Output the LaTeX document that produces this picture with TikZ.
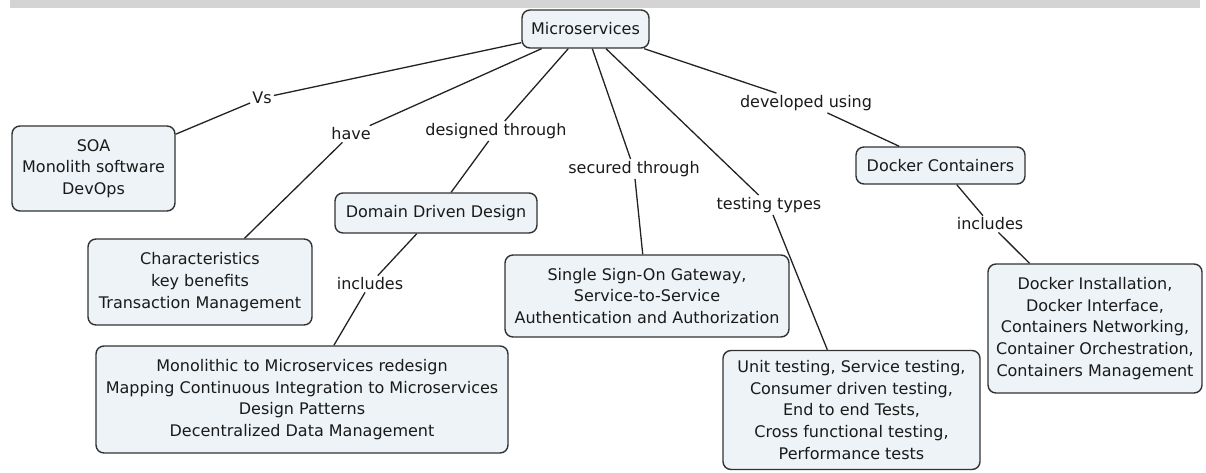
\documentclass[tikz,border=0pt]{standalone}
\usepackage{fontspec}
\setmainfont{DejaVu Sans}
\definecolor{boxfill}{HTML}{EDF3F6}
\definecolor{boxline}{HTML}{333333}
\definecolor{linkc}{HTML}{222222}
\definecolor{txt}{HTML}{1A1A1A}
\definecolor{barc}{HTML}{D4D4D4}
\newcommand{\cmfs}{\fontsize{16}{21.7}\selectfont}
\begin{document}
\begin{tikzpicture}[x=1pt,y=-1pt,
  concept/.style={draw=boxline, line width=1.4pt, fill=boxfill, rounded corners=8pt,
    align=center, font=\cmfs, text=txt, inner sep=0pt},
  lbl/.style={fill=white, font=\cmfs, inner sep=2pt, text=txt},
  link/.style={draw=linkc, line width=1.3pt}]
\useasboundingbox (0,0) rectangle (1206,473);
\fill[barc] (10,0) rectangle (1200,8);

\node[concept, minimum width=127pt, minimum height=38pt] (micro) at (585.5,29) {Microservices};
\node[concept, minimum width=163pt, minimum height=85pt] (soa) at (93.5,168.5) {SOA\\Monolith software\\DevOps};
\node[concept, minimum width=224pt, minimum height=86pt] (char) at (200,282) {Characteristics\\key benefits\\Transaction Management};
\node[concept, minimum width=202pt, minimum height=40pt] (ddd) at (436,213) {Domain Driven Design};
\node[concept, minimum width=412pt, minimum height=107pt] (mono) at (302,399.5) {Monolithic to Microservices redesign\\Mapping Continuous Integration to Microservices\\Design Patterns\\Decentralized Data Management};
\node[concept, minimum width=284pt, minimum height=82pt] (sso) at (647,296) {Single Sign-On Gateway,\\Service-to-Service\\Authentication and Authorization};
\node[concept, minimum width=257pt, minimum height=119pt] (unit) at (851.5,410) {Unit testing, Service testing,\\Consumer driven testing,\\End to end Tests,\\Cross functional testing,\\Performance tests};
\node[concept, minimum width=169pt, minimum height=37pt] (dc) at (940.5,165.5) {Docker Containers};
\node[concept, minimum width=214pt, minimum height=129pt] (di) at (1095,328.5) {Docker Installation,\\Docker Interface,\\Containers Networking,\\Container Orchestration,\\Containers Management};

\node[lbl] (vs) at (262,98) {Vs};
\node[lbl] (have) at (351,134) {have};
\node[lbl] (dt) at (496,131) {designed through};
\node[lbl] (st) at (634,169) {secured through};
\node[lbl] (tt) at (769,205) {testing types};
\node[lbl] (du) at (806,103) {developed using};
\node[lbl] (inc1) at (370,284) {includes};
\node[lbl] (inc2) at (990,224) {includes};

\draw[link] (micro) -- (vs);
\draw[link] (vs) -- (soa);
\draw[link] (micro) -- (have);
\draw[link] (have) -- (char);
\draw[link] (micro) -- (dt);
\draw[link] (dt) -- (ddd);
\draw[link] (ddd) -- (inc1);
\draw[link] (inc1) -- (mono);
\draw[link] (micro) -- (st);
\draw[link] (st) -- (sso);
\draw[link] (micro) -- (tt);
\draw[link] (tt) -- (unit);
\draw[link] (micro) -- (du);
\draw[link] (du) -- (dc);
\draw[link] (dc) -- (inc2);
\draw[link] (inc2) -- (di);
\end{tikzpicture}
\end{document}
